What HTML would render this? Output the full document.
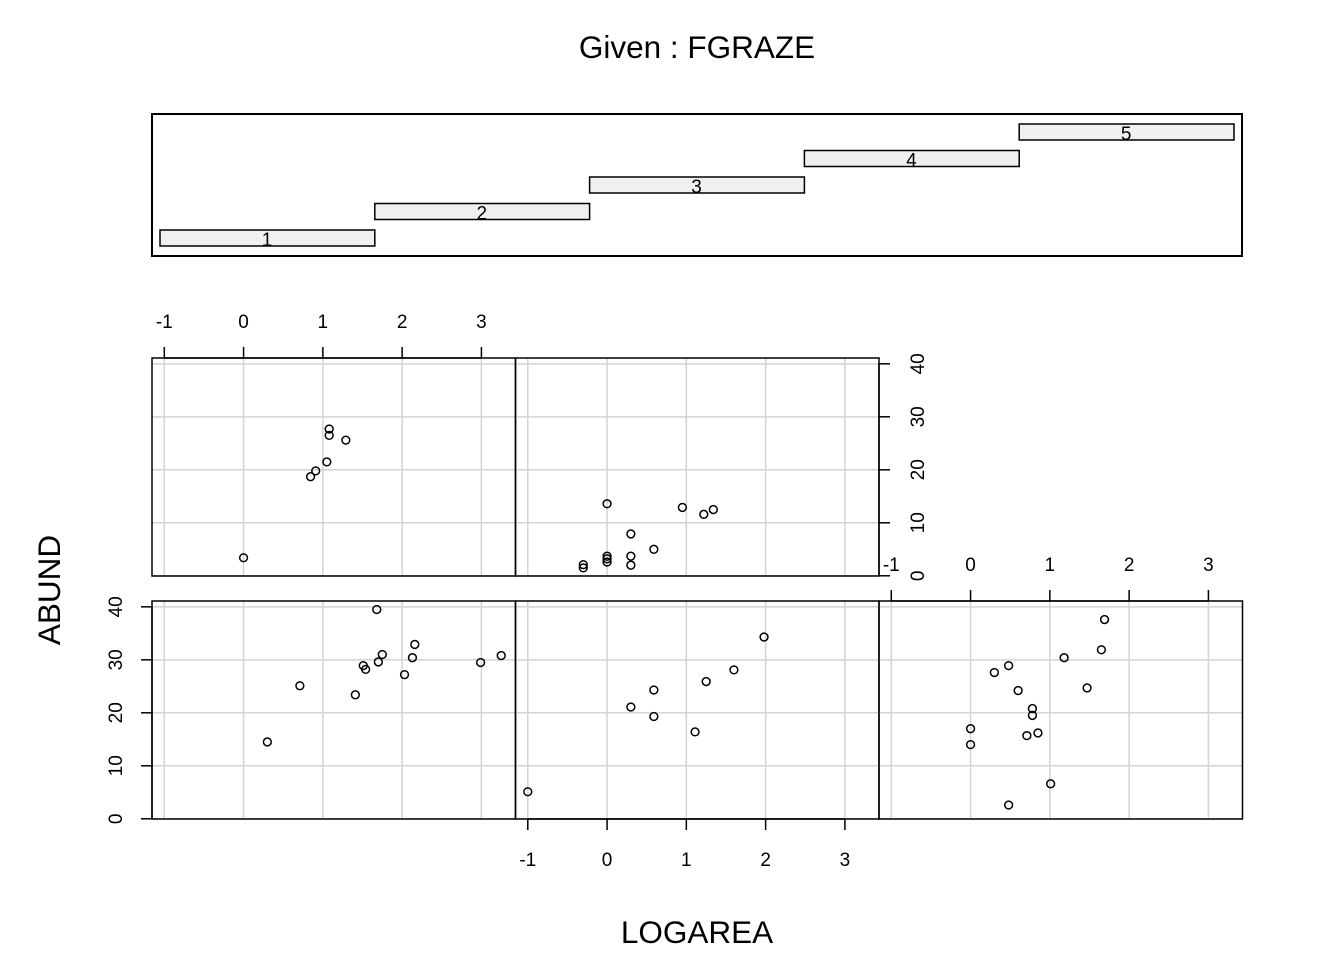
<!DOCTYPE html>
<html><head><meta charset="utf-8"><style>
body{margin:0;background:#fff}
svg{display:block;font-family:"Liberation Sans",Arial,sans-serif}
</style></head><body>
<svg id="c" width="1344" height="960" xmlns="http://www.w3.org/2000/svg">
<text x="697" y="58" font-size="31.5" text-anchor="middle">Given : FGRAZE</text>
<text x="697" y="943" font-size="31.5" text-anchor="middle">LOGAREA</text>
<text transform="translate(60,590) rotate(-90)" font-size="31.5" text-anchor="middle">ABUND</text>
<rect x="152" y="114" width="1090" height="142" fill="none" stroke="#000" stroke-width="2"/>
<g id="g"></g>
</svg>
<script>
const grazeLevels=["1","2","3","4","5"];
const xTicks=[-1,0,1,2,3];
const yTicks=[0,10,20,30,40];
const g1x=[0.3,0.71,1.41,1.51,1.54,1.68,1.70,1.75,2.03,2.13,2.16,2.99,3.25];
const g1y=[14.5,25.1,23.4,28.9,28.2,39.5,29.6,31,27.2,30.4,32.9,29.5,30.8];
const g2x=[-1,0.3,0.59,0.59,1.11,1.25,1.6,1.98];
const g2y=[5.1,21.1,24.3,19.3,16.4,25.9,28.1,34.3];
const g3x=[0,0,0.3,0.48,0.48,0.6,0.71,0.78,0.78,0.85,1.01,1.18,1.47,1.65,1.69];
const g3y=[17,14,27.6,28.9,2.6,24.2,15.7,20.8,19.5,16.2,6.6,30.4,24.7,31.9,37.6];
const g4x=[0,0.845,0.91,1.05,1.08,1.08,1.29];
const g4y=[3.4,18.7,19.8,21.5,27.7,26.5,25.6];
const g5x=[0,-0.3,-0.3,0,0,0,0.3,0.3,0.3,0.59,0.95,1.22,1.34];
const g5y=[13.6,2.1,1.5,3.7,3.2,2.6,7.9,3.7,2.0,5,12.9,11.6,12.5];
const NS="http://www.w3.org/2000/svg";
const G=document.getElementById('g');
function el(t,a,p){const e=document.createElementNS(NS,t);for(const k in a)e.setAttribute(k,a[k]);(p||G).appendChild(e);return e;}
grazeLevels.forEach((l,i)=>{
  const x=160+i*214.8, y=230-i*26.5;
  const r=el('rect',{x:x,y:y,width:214.8,height:16,fill:'#f0f0f0',stroke:'#000','stroke-width':1.5});
  
  
  const t=el('text',{x:x+107,y:y+16,'font-size':19,'text-anchor':'middle'});
  t.textContent=l;
  
  
});
const PW=363.5, PH=218;
const panels=[
 {x:152,y:601,xs:g1x,ys:g1y,n:'1'},
 {x:515.5,y:601,xs:g2x,ys:g2y,n:'2'},
 {x:879,y:601,xs:g3x,ys:g3y,n:'3'},
 {x:152,y:358,xs:g4x,ys:g4y,n:'4'},
 {x:515.5,y:358,xs:g5x,ys:g5y,n:'5'}];
const xmin=-1.155,xmax=3.43,ymin=-0.04,ymax=41.1;
panels.forEach(p=>{
  const sx=v=>p.x+(v-xmin)/(xmax-xmin)*PW;
  const sy=v=>p.y+PH-(v-ymin)/(ymax-ymin)*PH;
  p.sx=sx;p.sy=sy;
  xTicks.forEach(t=>el('line',{x1:sx(t),x2:sx(t),y1:p.y,y2:p.y+PH,stroke:'#d3d3d3','stroke-width':1.5}));
  yTicks.forEach(t=>el('line',{x1:p.x,x2:p.x+PW,y1:sy(t),y2:sy(t),stroke:'#d3d3d3','stroke-width':1.5}));
  const r=el('rect',{x:p.x,y:p.y,width:PW,height:PH,fill:'none',stroke:'#000','stroke-width':1.5});
  
  
  p.xs.forEach((v,i)=>{
    const c=el('circle',{cx:sx(v),cy:sy(p.ys[i]),r:3.9,fill:'none',stroke:'#000','stroke-width':1.5});
    
    
  });
});
function xAxis(p,side){
  const y0=side==='top'?p.y:p.y+PH, d=side==='top'?-11:11;
  el('line',{x1:p.sx(xTicks[0]),x2:p.sx(xTicks[xTicks.length-1]),y1:y0,y2:y0,stroke:'#000','stroke-width':1.5});
  xTicks.forEach(t=>{
    el('line',{x1:p.sx(t),x2:p.sx(t),y1:y0,y2:y0+d,stroke:'#000','stroke-width':1.5});
    const tx=el('text',{x:p.sx(t),y:side==='top'?y0-30:y0+47,'font-size':19,'text-anchor':'middle'});
    tx.textContent=t;
    
    
  });
}
function yAxis(p,side){
  const x0=side==='left'?p.x:p.x+PW, d=side==='left'?-11:11;
  el('line',{x1:x0,x2:x0,y1:p.sy(0),y2:p.sy(40),stroke:'#000','stroke-width':1.5});
  yTicks.forEach(t=>{
    el('line',{x1:x0,x2:x0+d,y1:p.sy(t),y2:p.sy(t),stroke:'#000','stroke-width':1.5});
    const xx=side==='left'?x0-30:x0+45;
    const tx=el('text',{transform:`translate(${xx},${p.sy(t)}) rotate(-90)`,'font-size':19,'text-anchor':'middle'});
    tx.textContent=t;
    
    
  });
}
xAxis(panels[3],'top');
xAxis(panels[1],'bottom');
xAxis(panels[2],'top');
yAxis(panels[0],'left');
yAxis(panels[4],'right');
</script>
</body></html>
